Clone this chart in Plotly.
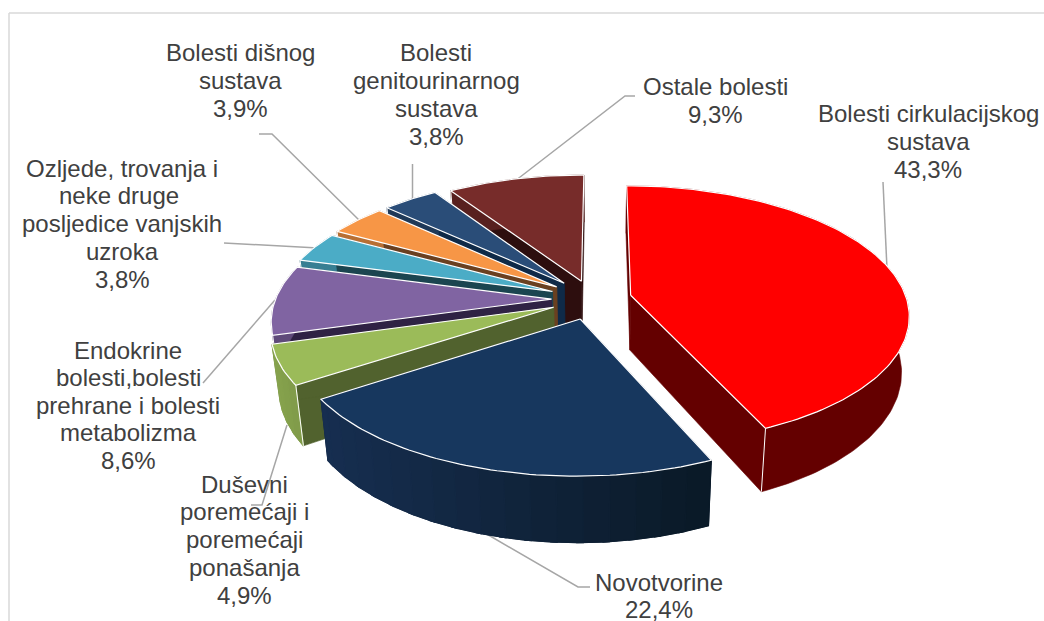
import math
import plotly.graph_objects as go

# ---- data (clockwise from 12 o'clock) ----
categories = [
    "Bolesti cirkulacijskog sustava", "Novotvorine",
    "Duševni poremećaji i poremećaji ponašanja",
    "Endokrine bolesti,bolesti prehrane i bolesti metabolizma",
    "Ozljede, trovanja i neke druge posljedice vanjskih uzroka",
    "Bolesti dišnog sustava", "Bolesti genitourinarnog sustava", "Ostale bolesti",
]
values = [43.3, 22.4, 4.9, 8.6, 3.8, 3.9, 3.8, 9.3]
label_lines = [
    ["Bolesti cirkulacijskog", "sustava"],
    ["Novotvorine"],
    ["Duševni", "poremećaji i", "poremećaji", "ponašanja"],
    ["Endokrine", "bolesti,bolesti", "prehrane i bolesti", "metabolizma"],
    ["Ozljede, trovanja i", "neke druge\u00a0", "posljedice vanjskih", "uzroka"],
    ["Bolesti dišnog", "sustava"],
    ["Bolesti", "genitourinarnog", "sustava"],
    ["Ostale bolesti"],
]

# ---- style ----
pulls = [0.14, 0.16, 0.155, 0.15, 0.16, 0.165, 0.165, 0.15]
top_colors = ["#FF0000", "#17375E", "#9BBB59", "#8064A2", "#4BACC6", "#F79646", "#2A4D78", "#772C2A"]
wall_colors = ["#640000", "#10243F", "#51622E", "#2F2244", "#1B4550", "#6A4020", "#0F2A48", "#2D0E0E"]
rim_left = ["#640000", "#162E50", "#86A24D", "#5F4A7A", "#387F93", "#B86F33", "#1F3958", "#58201F"]
rim_right = ["#640000", "#0A1926", "#7F9A49", "#5F4A7A", "#387F93", "#B86F33", "#1F3958", "#58201F"]
draw_order = [7, 6, 5, 4, 3, 2, 0, 1]

label_pos = [  # centre x, first line y, line step
    (928, 113, 28), (659, 582, 27.5), (244, 484, 27.8), (128, 350, 27.6),
    (122, 168, 27.8), (240, 52, 28), (436, 52, 28), (715, 86, 28),
]
leaders = [
    [(883, 182), (887, 269)],
    [(590, 587), (578, 587), (485, 533)],
    [(251, 505), (262, 505), (287, 425)],
    [(203, 383), (275, 300)],
    [(224, 243), (318, 248)],
    [(259, 134), (272, 134), (361, 222)],
    [(412.5, 164), (412.5, 200)],
    [(635, 96), (625, 96), (515, 181)],
]
TEXT = "#404040"
LEAD = "#A6A6A6"
FRAME = "#D9D9D9"
FONT = "Liberation Sans"

# perspective view of the pie plane (unit radius)
CX, CY, VX = 593.0, 299.0, 600.0
FX, FY, P = 276.0, 127.0, 0.15
DEPTH, SHRINK = 55.0, 0.975


def top_pt(x, y):
    w = 1 + P * y
    return VX + (CX - VX + FX * x) / w, CY - FY * y / w


def bot_pt(x, y):
    sx, sy = top_pt(x, y)
    return VX + (sx - VX) * SHRINK, sy + DEPTH / (1 + P * y)


def mix(a, b, t):
    ca = [int(a[i:i + 2], 16) for i in (1, 3, 5)]
    cb = [int(b[i:i + 2], 16) for i in (1, 3, 5)]
    return "rgb(%d,%d,%d)" % tuple(round(p + (q - p) * t) for p, q in zip(ca, cb))


fig = go.Figure()


def poly(points, fill, line=None, width=0.0):
    fig.add_trace(go.Scatter(
        x=[p[0] for p in points] + [points[0][0]],
        y=[p[1] for p in points] + [points[0][1]],
        mode="lines", fill="toself", fillcolor=fill,
        line=dict(color=line or fill, width=width or 0.6),
        hoverinfo="skip", showlegend=False))


def path(points, color, width):
    fig.add_trace(go.Scatter(
        x=[p[0] for p in points], y=[p[1] for p in points], mode="lines",
        line=dict(color=color, width=width), hoverinfo="skip", showlegend=False))


for pts in leaders:
    path(pts, LEAD, 1.5)

total = sum(values)
starts, run = [], 0.0
for v in values:
    starts.append(run)
    run += v

for i in draw_order:
    a0 = starts[i] / total * 2 * math.pi
    a1 = (starts[i] + values[i]) / total * 2 * math.pi
    mid = (a0 + a1) / 2
    ox, oy = pulls[i] * math.sin(mid), pulls[i] * math.cos(mid)
    n = max(4, int((a1 - a0) / 0.02))
    rim = [(ox + math.sin(a0 + (a1 - a0) * k / n), oy + math.cos(a0 + (a1 - a0) * k / n))
           for k in range(n + 1)]
    # radial walls
    for e in (rim[0], rim[-1]):
        poly([top_pt(ox, oy), top_pt(*e), bot_pt(*e), bot_pt(ox, oy)], wall_colors[i])
    # outer rim, shaded strip by strip
    xs = [top_pt(*r)[0] for r in rim]
    lo, hi = min(xs), max(xs)
    base = mix(rim_left[i], rim_right[i], 0.5)
    poly([top_pt(*r) for r in rim] + [bot_pt(*r) for r in reversed(rim)], base)
    if rim_left[i] != rim_right[i]:
        for k in range(0, n, 4):
            seg = rim[k:k + 6]
            xm = (top_pt(*seg[0])[0] + top_pt(*seg[-1])[0]) / 2
            col = mix(rim_left[i], rim_right[i], (xm - lo) / max(hi - lo, 1))
            poly([top_pt(*r) for r in seg] + [bot_pt(*r) for r in reversed(seg)], col, col, 1.2)
    # white corner where a visible wall meets the rim
    if a0 > math.pi:
        path([top_pt(*rim[0]), bot_pt(*rim[0])], "#FFFFFF", 1.0)
    elif a1 <= math.pi:
        path([top_pt(*rim[-1]), bot_pt(*rim[-1])], "#FFFFFF", 1.0)
    # top face
    poly([top_pt(ox, oy)] + [top_pt(*r) for r in rim], top_colors[i], "#FFFFFF", 1.2)

annotations = []
for i, lines in enumerate(label_lines):
    cx, y0, dy = label_pos[i]
    pct = f"{values[i]:.1f}%".replace(".", ",")
    for k, t in enumerate(lines + [pct]):
        annotations.append(dict(
            x=cx, y=y0 + k * dy, xref="x", yref="y", text=t, showarrow=False,
            xanchor="center", yanchor="middle",
            font=dict(family=FONT, size=24, color=TEXT)))

fig.update_layout(
    width=1044, height=621, autosize=False,
    margin=dict(l=0, r=0, t=0, b=0),
    paper_bgcolor="#FFFFFF", plot_bgcolor="#FFFFFF",
    showlegend=False, annotations=annotations,
    xaxis=dict(range=[0, 1044], visible=False, fixedrange=True),
    yaxis=dict(range=[621, 0], visible=False, fixedrange=True),
    shapes=[dict(type="line", xref="x", yref="y", x0=9, y0=13, x1=1044, y1=13,
                 line=dict(color=FRAME, width=1.5), layer="below"),
            dict(type="line", xref="x", yref="y", x0=9, y0=13, x1=9, y1=621,
                 line=dict(color=FRAME, width=1.5), layer="below")],
)

fig.write_html("out.html", config={"displayModeBar": False},
               post_script="document.body.style.margin='0';document.documentElement.style.overflow='hidden';")
